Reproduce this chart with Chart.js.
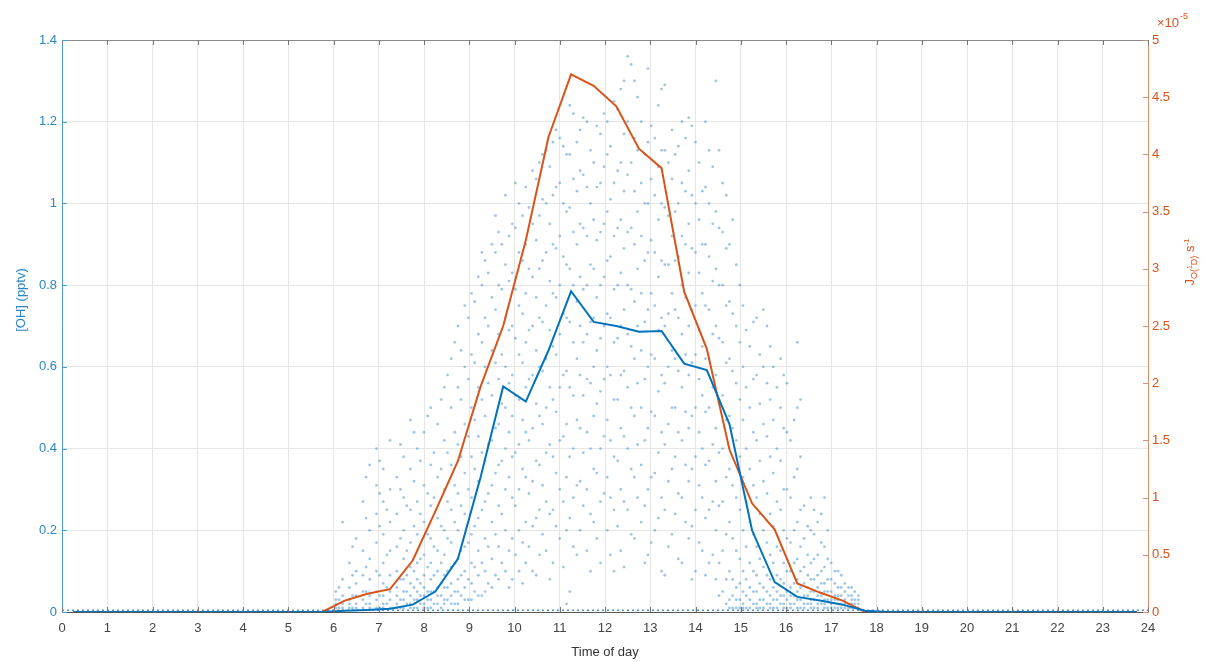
<!DOCTYPE html>
<html>
<head>
<meta charset="utf-8">
<script src="https://cdn.jsdelivr.net/npm/chart.js@4"></script>
<style>
  html, body { margin: 0; padding: 0; background: #fff; }
  #wrap { width: 1212px; height: 662px; }
</style>
</head>
<body>
<div id="wrap"><canvas id="grafico1" width="1212" height="662"></canvas></div>
<script>
// half-hour bin centres (hours)
const binHour = [0.25, 0.75, 1.25, 1.75, 2.25, 2.75, 3.25, 3.75, 4.25, 4.75, 5.25, 5.75,
  6.25, 6.75, 7.25, 7.75, 8.25, 8.75, 9.25, 9.75, 10.25, 10.75, 11.25, 11.75,
  12.25, 12.75, 13.25, 13.75, 14.25, 14.75, 15.25, 15.75, 16.25, 16.75, 17.25, 17.75,
  18.25, 18.75, 19.25, 19.75, 20.25, 20.75, 21.25, 21.75, 22.25, 22.75, 23.25, 23.75];

// mean [OH] (pptv)
const ohMean = [0, 0, 0, 0, 0, 0, 0, 0, 0, 0, 0, 0,
  0.003, 0.005, 0.008, 0.018, 0.05, 0.13, 0.33, 0.552, 0.515, 0.64, 0.785, 0.71,
  0.70, 0.686, 0.688, 0.608, 0.592, 0.46, 0.2, 0.073, 0.037, 0.028, 0.018, 0.003,
  0, 0, 0, 0, 0, 0, 0, 0, 0, 0, 0, 0];

// J(O1D) in units of 1e-5 s-1
const jO1D = [0, 0, 0, 0, 0, 0, 0, 0, 0, 0, 0, 0,
  0.1, 0.16, 0.2, 0.45, 0.88, 1.32, 1.97, 2.5, 3.25, 4.15, 4.7, 4.6,
  4.42, 4.05, 3.88, 2.8, 2.3, 1.42, 0.95, 0.72, 0.25, 0.17, 0.1, 0,
  0, 0, 0, 0, 0, 0, 0, 0, 0, 0, 0, 0];

// individual OH observations, grouped by time column
const ohCols = [6.05, 6.2, 6.35, 6.5, 6.65, 6.8, 6.95, 7.1, 7.25, 7.4, 7.55, 7.7, 7.85,
  8.0, 8.15, 8.3, 8.45, 8.6, 8.75, 8.9, 9.05, 9.2, 9.35, 9.5, 9.65, 9.8, 9.95,
  10.1, 10.25, 10.4, 10.55, 10.7, 10.85, 11.0, 11.15, 11.3, 11.45, 11.6, 11.75, 11.9,
  12.05, 12.2, 12.35, 12.5, 12.65, 12.8, 12.95, 13.1, 13.25, 13.4, 13.55, 13.7, 13.85,
  14.0, 14.15, 14.3, 14.45, 14.6, 14.75, 14.9, 15.05, 15.2, 15.35, 15.5, 15.65, 15.8, 15.95,
  16.1, 16.25, 16.4, 16.55, 16.7, 16.85, 17.0, 17.15, 17.3, 17.45, 17.6];

const ohColVals = [
  [0.01, 0.02, 0.03, 0.05],
  [0.01, 0.02, 0.04, 0.08, 0.22],
  [0.01, 0.02, 0.03, 0.06, 0.12],
  [0.01, 0.02, 0.04, 0.07, 0.1, 0.18],
  [0.01, 0.03, 0.05, 0.09, 0.15, 0.27],
  [0.01, 0.02, 0.04, 0.08, 0.13, 0.2, 0.36],
  [0.01, 0.03, 0.05, 0.1, 0.17, 0.24, 0.31, 0.4],
  [0.01, 0.02, 0.04, 0.07, 0.12, 0.19, 0.27, 0.35],
  [0.01, 0.03, 0.05, 0.09, 0.15, 0.22, 0.3, 0.42],
  [0.01, 0.02, 0.04, 0.06, 0.1, 0.16, 0.24, 0.33],
  [0.01, 0.03, 0.05, 0.08, 0.13, 0.2, 0.28, 0.38],
  [0.01, 0.02, 0.04, 0.07, 0.11, 0.17, 0.25, 0.35, 0.47],
  [0.01, 0.03, 0.05, 0.08, 0.12, 0.19, 0.27, 0.4],
  [0.01, 0.02, 0.04, 0.06, 0.09, 0.14, 0.22, 0.31, 0.44],
  [0.01, 0.03, 0.05, 0.08, 0.12, 0.18, 0.26, 0.36, 0.5],
  [0.02, 0.04, 0.06, 0.1, 0.15, 0.23, 0.33, 0.46],
  [0.02, 0.03, 0.06, 0.09, 0.14, 0.2, 0.3, 0.42, 0.55],
  [0.02, 0.04, 0.07, 0.11, 0.17, 0.25, 0.36, 0.5, 0.62],
  [0.02, 0.05, 0.08, 0.13, 0.2, 0.29, 0.41, 0.55, 0.7],
  [0.03, 0.06, 0.1, 0.16, 0.24, 0.34, 0.46, 0.6, 0.75],
  [0.03, 0.07, 0.12, 0.19, 0.28, 0.38, 0.5, 0.63, 0.78],
  [0.04, 0.09, 0.15, 0.23, 0.32, 0.43, 0.55, 0.68, 0.82],
  [0.05, 0.1, 0.18, 0.27, 0.37, 0.48, 0.6, 0.72, 0.86],
  [0.06, 0.13, 0.22, 0.31, 0.42, 0.53, 0.64, 0.77, 0.9],
  [0.08, 0.16, 0.26, 0.36, 0.46, 0.57, 0.68, 0.8, 0.93],
  [0.1, 0.2, 0.3, 0.4, 0.5, 0.6, 0.72, 0.85, 1.02],
  [0.08, 0.18, 0.28, 0.38, 0.48, 0.58, 0.7, 0.83, 0.95],
  [0.1, 0.2, 0.3, 0.41, 0.52, 0.63, 0.75, 0.88, 1.0],
  [0.12, 0.22, 0.33, 0.44, 0.55, 0.66, 0.78, 0.9, 1.04],
  [0.1, 0.21, 0.32, 0.45, 0.58, 0.7, 0.82, 0.95, 1.08],
  [0.14, 0.25, 0.36, 0.48, 0.6, 0.72, 0.84, 0.97, 1.1],
  [0.15, 0.27, 0.39, 0.5, 0.62, 0.75, 0.88, 1.0, 1.13],
  [0.12, 0.25, 0.38, 0.52, 0.65, 0.78, 0.9, 1.02, 1.15],
  [0.18, 0.3, 0.42, 0.55, 0.68, 0.8, 0.92, 1.05, 1.16],
  [0.02, 0.2, 0.33, 0.46, 0.59, 0.72, 0.85, 0.98, 1.12],
  [0.16, 0.28, 0.4, 0.53, 0.66, 0.8, 0.93, 1.06, 1.22],
  [0.2, 0.32, 0.45, 0.58, 0.7, 0.82, 0.95, 1.08, 1.18],
  [0.15, 0.3, 0.44, 0.57, 0.68, 0.8, 0.92, 1.04, 1.2],
  [0.22, 0.35, 0.48, 0.6, 0.72, 0.84, 0.96, 1.1],
  [0.12, 0.27, 0.4, 0.54, 0.67, 0.8, 0.93, 1.05, 1.17],
  [0.2, 0.33, 0.47, 0.6, 0.73, 0.86, 0.98, 1.12, 1.2],
  [0.1, 0.25, 0.38, 0.52, 0.66, 0.79, 0.92, 1.05, 1.25],
  [0.15, 0.3, 0.45, 0.58, 0.7, 0.83, 0.96, 1.1, 1.28],
  [0.25, 0.4, 0.55, 0.68, 0.8, 0.93, 1.07, 1.2, 1.36],
  [0.18, 0.33, 0.48, 0.62, 0.76, 0.9, 1.03, 1.16, 1.3],
  [0.22, 0.36, 0.5, 0.64, 0.78, 0.92, 1.05, 1.2],
  [0.14, 0.3, 0.45, 0.6, 0.74, 0.88, 1.0, 1.15, 1.33],
  [0.2, 0.34, 0.48, 0.62, 0.75, 0.88, 1.02, 1.16],
  [0.1, 0.28, 0.44, 0.58, 0.72, 0.86, 1.0, 1.13, 1.28],
  [0.16, 0.32, 0.46, 0.6, 0.73, 0.85, 0.97, 1.1],
  [0.24, 0.38, 0.5, 0.62, 0.74, 0.86, 0.98, 1.12],
  [0.12, 0.28, 0.42, 0.55, 0.68, 0.8, 0.92, 1.05, 1.2],
  [0.18, 0.32, 0.45, 0.58, 0.7, 0.83, 0.95, 1.08, 1.21],
  [0.1, 0.25, 0.38, 0.5, 0.63, 0.75, 0.88, 1.0, 1.15],
  [0.15, 0.28, 0.4, 0.53, 0.65, 0.78, 0.9, 1.03],
  [0.12, 0.25, 0.37, 0.5, 0.62, 0.74, 0.87, 1.0, 1.13],
  [0.08, 0.2, 0.32, 0.45, 0.58, 0.7, 0.84, 0.98, 1.3],
  [0.05, 0.15, 0.27, 0.4, 0.53, 0.66, 0.8, 0.93, 1.05],
  [0.01, 0.03, 0.1, 0.22, 0.35, 0.48, 0.62, 0.76, 0.9],
  [0.01, 0.03, 0.06, 0.15, 0.28, 0.42, 0.56, 0.7, 0.85],
  [0.01, 0.02, 0.05, 0.1, 0.2, 0.33, 0.47, 0.6, 0.75],
  [0.01, 0.03, 0.06, 0.12, 0.22, 0.35, 0.5, 0.65],
  [0.01, 0.02, 0.05, 0.09, 0.16, 0.28, 0.42, 0.58, 0.72],
  [0.01, 0.03, 0.06, 0.11, 0.2, 0.32, 0.46, 0.6, 0.74],
  [0.01, 0.02, 0.04, 0.08, 0.14, 0.24, 0.38, 0.52, 0.65],
  [0.01, 0.03, 0.05, 0.09, 0.16, 0.27, 0.4, 0.55],
  [0.01, 0.02, 0.04, 0.07, 0.12, 0.2, 0.3, 0.45, 0.58],
  [0.01, 0.02, 0.04, 0.06, 0.1, 0.17, 0.28, 0.42],
  [0.01, 0.03, 0.05, 0.08, 0.13, 0.22, 0.35, 0.5, 0.66],
  [0.01, 0.02, 0.04, 0.07, 0.11, 0.18, 0.26],
  [0.01, 0.02, 0.03, 0.05, 0.08, 0.12, 0.2, 0.28],
  [0.01, 0.02, 0.04, 0.06, 0.09, 0.14, 0.22],
  [0.01, 0.02, 0.03, 0.05, 0.07, 0.11, 0.16, 0.28],
  [0.01, 0.02, 0.03, 0.05, 0.08, 0.12],
  [0.01, 0.02, 0.03, 0.04, 0.06, 0.1],
  [0.01, 0.02, 0.03, 0.05, 0.07],
  [0.01, 0.02, 0.03, 0.04, 0.06],
  [0.01, 0.02, 0.03, 0.04]
];

// second pass of observations between the columns above
const ohCols2 = [6.12, 6.42, 6.72, 7.02, 7.18, 7.48, 7.62, 7.78, 7.92, 8.08, 8.22, 8.38,
  8.52, 8.68, 8.82, 8.98, 9.12, 9.28, 9.42, 9.58, 9.72, 9.88, 10.02, 10.18, 10.32, 10.48,
  10.62, 10.78, 10.92, 11.08, 11.22, 11.38, 11.52, 11.68, 11.82, 11.98, 12.12, 12.28, 12.42,
  12.58, 12.72, 12.88, 13.02, 13.18, 13.32, 13.48, 13.62, 13.78, 13.92, 14.08, 14.22, 14.38,
  14.52, 14.68, 14.82, 14.98, 15.12, 15.28, 15.42, 15.58, 15.72, 15.88, 16.02, 16.18, 16.32,
  16.48, 16.62, 16.78, 16.92, 17.08, 17.22, 17.38, 17.52];

const ohColVals2 = [
  [0.01, 0.03, 0.06],
  [0.01, 0.04, 0.09, 0.16],
  [0.02, 0.05, 0.11, 0.23, 0.33],
  [0.01, 0.04, 0.09, 0.21, 0.29, 0.37],
  [0.02, 0.06, 0.14, 0.25],
  [0.01, 0.03, 0.08, 0.18, 0.3, 0.41],
  [0.02, 0.05, 0.09, 0.15, 0.26],
  [0.01, 0.03, 0.06, 0.1, 0.21, 0.32, 0.44],
  [0.02, 0.04, 0.07, 0.13, 0.24, 0.37],
  [0.01, 0.03, 0.05, 0.11, 0.19, 0.29, 0.48],
  [0.02, 0.05, 0.09, 0.16, 0.28, 0.39],
  [0.01, 0.04, 0.07, 0.12, 0.21, 0.35, 0.52],
  [0.03, 0.06, 0.1, 0.18, 0.27, 0.39, 0.58],
  [0.02, 0.05, 0.12, 0.22, 0.31, 0.44, 0.66],
  [0.04, 0.09, 0.15, 0.26, 0.38, 0.52, 0.64],
  [0.03, 0.08, 0.17, 0.3, 0.43, 0.57, 0.72],
  [0.05, 0.11, 0.21, 0.35, 0.47, 0.61, 0.76],
  [0.04, 0.12, 0.25, 0.39, 0.52, 0.66, 0.8, 0.88],
  [0.07, 0.16, 0.29, 0.41, 0.56, 0.7, 0.83],
  [0.09, 0.19, 0.34, 0.45, 0.61, 0.74, 0.88, 0.97],
  [0.12, 0.24, 0.37, 0.51, 0.63, 0.79, 0.9],
  [0.06, 0.15, 0.33, 0.44, 0.56, 0.69, 0.81, 0.92],
  [0.14, 0.26, 0.39, 0.53, 0.67, 0.79, 0.94, 1.05],
  [0.07, 0.17, 0.35, 0.47, 0.61, 0.73, 0.86, 0.97],
  [0.16, 0.29, 0.42, 0.57, 0.69, 0.84, 0.99],
  [0.09, 0.23, 0.37, 0.51, 0.64, 0.77, 0.91, 1.06],
  [0.19, 0.31, 0.46, 0.59, 0.71, 0.86, 1.01, 1.12],
  [0.08, 0.24, 0.41, 0.55, 0.69, 0.81, 0.95, 1.09],
  [0.21, 0.34, 0.49, 0.63, 0.77, 0.89, 1.04, 1.18],
  [0.11, 0.27, 0.43, 0.58, 0.73, 0.87, 1.0, 1.14],
  [0.05, 0.23, 0.38, 0.55, 0.71, 0.84, 0.99, 1.12, 1.24],
  [0.14, 0.31, 0.47, 0.62, 0.76, 0.9, 1.03, 1.15],
  [0.26, 0.39, 0.53, 0.66, 0.79, 0.94, 1.07, 1.21],
  [0.1, 0.24, 0.4, 0.56, 0.71, 0.85, 1.0, 1.13],
  [0.18, 0.34, 0.51, 0.64, 0.77, 0.91, 1.04, 1.19],
  [0.29, 0.43, 0.57, 0.7, 0.82, 0.95, 1.09, 1.22],
  [0.14, 0.28, 0.42, 0.58, 0.72, 0.87, 1.01, 1.14],
  [0.21, 0.37, 0.52, 0.67, 0.8, 0.94, 1.08, 1.23],
  [0.11, 0.27, 0.43, 0.59, 0.74, 0.89, 1.03, 1.17, 1.3],
  [0.19, 0.35, 0.5, 0.65, 0.79, 0.94, 1.1, 1.34],
  [0.28, 0.41, 0.56, 0.7, 0.84, 0.98, 1.13, 1.26],
  [0.12, 0.26, 0.42, 0.57, 0.71, 0.86, 1.0, 1.12],
  [0.17, 0.33, 0.49, 0.63, 0.78, 0.91, 1.06, 1.19],
  [0.23, 0.39, 0.54, 0.69, 0.82, 0.96, 1.09, 1.24],
  [0.09, 0.25, 0.41, 0.56, 0.7, 0.85, 0.99, 1.13, 1.29],
  [0.19, 0.35, 0.5, 0.64, 0.78, 0.92, 1.06, 1.18],
  [0.13, 0.29, 0.44, 0.59, 0.72, 0.87, 1.0, 1.14],
  [0.22, 0.36, 0.49, 0.63, 0.77, 0.9, 1.03, 1.16],
  [0.08, 0.21, 0.35, 0.48, 0.61, 0.74, 0.89, 1.02, 1.19],
  [0.17, 0.31, 0.44, 0.57, 0.69, 0.83, 0.96, 1.1],
  [0.09, 0.23, 0.36, 0.49, 0.62, 0.75, 0.9, 1.04, 1.2],
  [0.14, 0.27, 0.41, 0.55, 0.68, 0.81, 0.95, 1.09],
  [0.04, 0.12, 0.26, 0.39, 0.52, 0.67, 0.8, 0.94, 1.13],
  [0.02, 0.08, 0.19, 0.33, 0.47, 0.61, 0.75, 0.89, 1.02],
  [0.01, 0.04, 0.08, 0.18, 0.31, 0.45, 0.59, 0.73, 0.96],
  [0.01, 0.03, 0.07, 0.13, 0.25, 0.38, 0.52, 0.66, 0.8],
  [0.01, 0.04, 0.08, 0.16, 0.27, 0.4, 0.55, 0.69],
  [0.02, 0.05, 0.1, 0.19, 0.31, 0.44, 0.57, 0.71],
  [0.01, 0.03, 0.07, 0.13, 0.24, 0.37, 0.51, 0.63],
  [0.02, 0.05, 0.09, 0.17, 0.29, 0.43, 0.56, 0.7],
  [0.01, 0.03, 0.06, 0.12, 0.21, 0.34, 0.47, 0.6],
  [0.02, 0.04, 0.08, 0.15, 0.25, 0.37, 0.5, 0.62],
  [0.01, 0.03, 0.05, 0.1, 0.18, 0.3, 0.44, 0.56],
  [0.02, 0.04, 0.07, 0.12, 0.2, 0.33, 0.47],
  [0.01, 0.03, 0.06, 0.1, 0.16, 0.25, 0.38, 0.52],
  [0.02, 0.04, 0.06, 0.09, 0.14, 0.21],
  [0.01, 0.03, 0.05, 0.08, 0.13, 0.19, 0.25],
  [0.02, 0.04, 0.07, 0.1, 0.17, 0.24],
  [0.01, 0.03, 0.05, 0.08, 0.13, 0.2],
  [0.01, 0.03, 0.04, 0.07, 0.1],
  [0.01, 0.02, 0.04, 0.06, 0.09],
  [0.01, 0.02, 0.04, 0.06],
  [0.01, 0.02, 0.03, 0.05]
];

// night-time OH samples sit just above zero over the whole day
const ohNightLevel = 0.004;

const BLUE = '#0072BD';
const ORANGE = '#D95319';
const FONT = "'Liberation Sans', Arial, sans-serif";

const obsPoints = [];
ohCols.forEach((t, i) => ohColVals[i].forEach(v => obsPoints.push({ x: t, y: v })));
ohCols2.forEach((t, i) => ohColVals2[i].forEach(v => obsPoints.push({ x: t, y: v })));

const decor = {
  id: 'decor',
  afterDraw(chart) {
    const { ctx, chartArea: a, scales } = chart;
    ctx.save();
    ctx.lineWidth = 1;
    // top box edge
    ctx.strokeStyle = '#8a8a8a';
    ctx.beginPath();
    ctx.moveTo(a.left, a.top + 0.5);
    ctx.lineTo(a.right, a.top + 0.5);
    ctx.stroke();
    // inward ticks
    ctx.strokeStyle = '#777';
    scales.x.ticks.forEach(t => {
      const px = Math.round(scales.x.getPixelForValue(t.value)) + 0.5;
      ctx.beginPath();
      ctx.moveTo(px, a.bottom); ctx.lineTo(px, a.bottom - 5);
      ctx.moveTo(px, a.top); ctx.lineTo(px, a.top + 5);
      ctx.stroke();
    });
    ctx.strokeStyle = '#4f9ad0';
    scales.y.ticks.forEach(t => {
      const py = Math.round(scales.y.getPixelForValue(t.value)) + 0.5;
      ctx.beginPath(); ctx.moveTo(a.left, py); ctx.lineTo(a.left + 5, py); ctx.stroke();
    });
    ctx.strokeStyle = '#de8d68';
    scales.y2.ticks.forEach(t => {
      const py = Math.round(scales.y2.getPixelForValue(t.value)) + 0.5;
      ctx.beginPath(); ctx.moveTo(a.right, py); ctx.lineTo(a.right - 5, py); ctx.stroke();
    });

    // left title
    ctx.fillStyle = '#2b86c8';
    ctx.font = '13px ' + FONT;
    ctx.textAlign = 'center';
    ctx.textBaseline = 'middle';
    ctx.save();
    ctx.translate(21, 300);
    ctx.rotate(-Math.PI / 2);
    ctx.fillText('[OH] (pptv)', 0, 0);
    ctx.restore();

    // right title J O(1D) s-1
    const parts = [
      { t: 'J', s: 13, dy: 0 },
      { t: 'O(', s: 9, dy: 3 },
      { t: '1', s: 7, dy: -2 },
      { t: 'D)', s: 9, dy: 3 },
      { t: ' s', s: 13, dy: 0 },
      { t: '-1', s: 8, dy: -5 }
    ];
    ctx.fillStyle = ORANGE;
    ctx.textAlign = 'left';
    ctx.textBaseline = 'alphabetic';
    let w = 0;
    parts.forEach(p => { ctx.font = p.s + 'px ' + FONT; p.w = ctx.measureText(p.t).width; w += p.w; });
    ctx.save();
    ctx.translate(1190, 262);
    ctx.rotate(-Math.PI / 2);
    let x = -w / 2;
    parts.forEach(p => {
      ctx.font = p.s + 'px ' + FONT;
      ctx.fillText(p.t, x, 4 + p.dy);
      x += p.w;
    });
    ctx.restore();

    // exponent label
    ctx.font = '13px ' + FONT;
    ctx.fillText('\u00d710', 1157, 27);
    const ew = ctx.measureText('\u00d710').width;
    ctx.font = '9px ' + FONT;
    ctx.fillText('-5', 1157 + ew + 1, 19);
    ctx.restore();
  }
};

const ctx = document.getElementById('grafico1');

new Chart(ctx, {
  data: {
    datasets: [
      {
        type: 'line',
        label: 'OH mean',
        data: binHour.map((h, i) => ({ x: h, y: ohMean[i] })),
        borderColor: BLUE,
        borderWidth: 2,
        pointRadius: 0,
        yAxisID: 'y',
        order: 0
      },
      {
        type: 'line',
        label: 'J(O1D)',
        data: binHour.map((h, i) => ({ x: h, y: jO1D[i] })),
        borderColor: ORANGE,
        borderWidth: 2,
        pointRadius: 0,
        yAxisID: 'y2',
        order: 1
      },
      {
        type: 'line',
        label: 'OH night',
        data: [{ x: 0, y: ohNightLevel }, { x: 24, y: ohNightLevel }],
        borderColor: 'rgba(40,120,190,0.8)',
        borderWidth: 1.5,
        borderDash: [2, 3],
        pointRadius: 0,
        yAxisID: 'y',
        order: 2
      },
      {
        type: 'scatter',
        label: 'OH obs',
        data: obsPoints,
        backgroundColor: 'rgba(80,150,210,0.55)',
        borderWidth: 0,
        pointRadius: 1.4,
        yAxisID: 'y',
        order: 3
      }
    ]
  },
  options: {
    responsive: false,
    animation: false,
    devicePixelRatio: 1,
    layout: { padding: { top: 40, left: 0, right: 0, bottom: 0 } },
    plugins: { legend: { display: false }, tooltip: { enabled: false } },
    scales: {
      x: {
        type: 'linear',
        position: 'bottom',
        min: 0, max: 24,
        ticks: { stepSize: 1, color: '#444', font: { family: FONT, size: 13 }, padding: 9, maxRotation: 0 },
        grid: { color: '#e6e6e6', drawTicks: false },
        border: { color: '#555' },
        title: { display: true, text: 'Time of day', color: '#333', font: { family: FONT, size: 13 }, padding: { top: 0, bottom: 2 } },
        afterFit: s => { s.height = 50; }
      },
      y: {
        position: 'left',
        min: 0, max: 1.4,
        ticks: { stepSize: 0.2, color: '#2b86c8', font: { family: FONT, size: 13 }, padding: 5,
          callback: v => String(+v.toFixed(1)) },
        grid: { color: '#e6e6e6', drawTicks: false },
        border: { color: '#4f9ad0' },
        afterFit: s => { s.width = 62; }
      },
      y2: {
        position: 'right',
        min: 0, max: 5,
        ticks: { stepSize: 0.5, color: ORANGE, font: { family: FONT, size: 13 }, padding: 4,
          callback: v => String(+v.toFixed(1)) },
        grid: { drawOnChartArea: false, drawTicks: false },
        border: { color: '#de8d68' },
        afterFit: s => { s.width = 64; }
      }
    }
  },
  plugins: [decor]
});
</script>
</body>
</html>
